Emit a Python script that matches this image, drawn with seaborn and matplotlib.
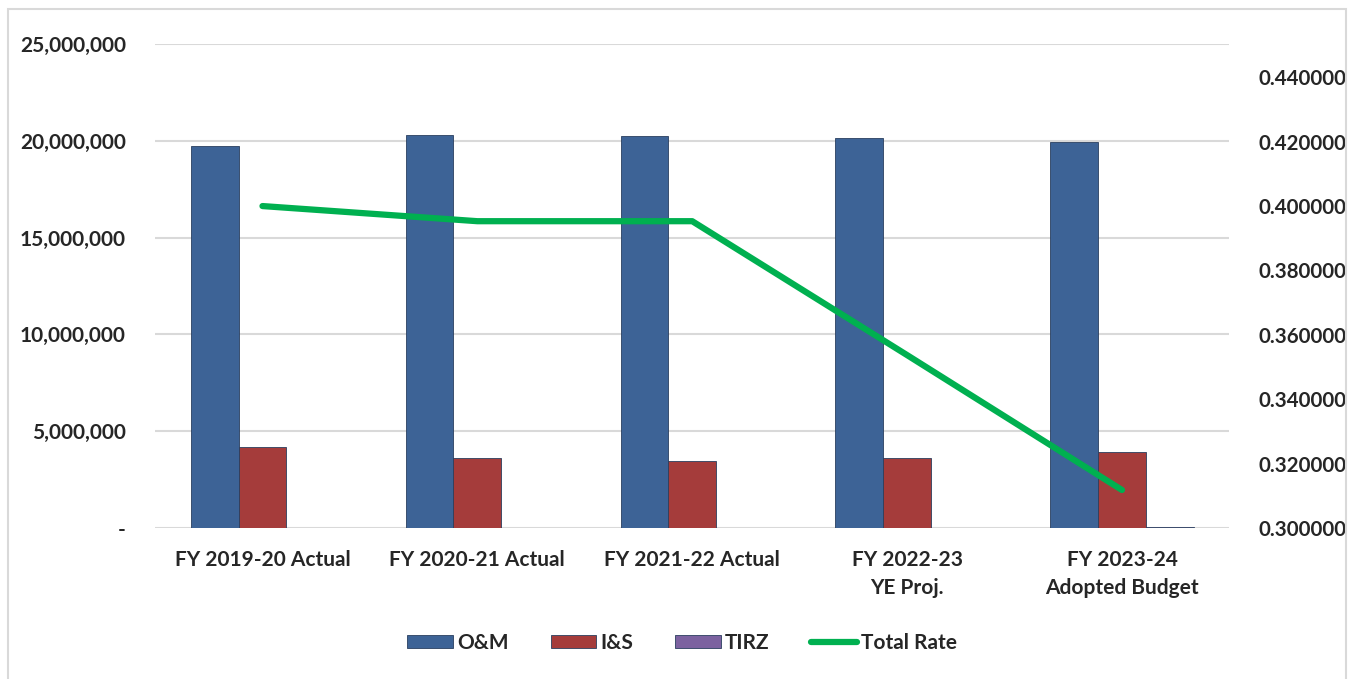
import numpy as np
import pandas as pd
import matplotlib.pyplot as plt
import matplotlib.patches as mpatches
from matplotlib.lines import Line2D
from matplotlib.ticker import FuncFormatter, MultipleLocator
import seaborn as sns

# values
years = ['FY 2019-20 Actual', 'FY 2020-21 Actual', 'FY 2021-22 Actual',
         'FY 2022-23\nYE Proj.', 'FY 2023-24\nAdopted Budget']
om = [19730000, 20300000, 20250000, 20150000, 19940000]
i_s = [4180000, 3620000, 3460000, 3620000, 3930000]
tirz = [0, 0, 0, 0, 50000]
total_rate = [0.4000, 0.3953, 0.3953, 0.3537, 0.3118]

series = ['O&M', 'I&S', 'TIRZ']
colors = ['#3D6396', '#A53C3B', '#7C62A0']
green = '#00B050'

df = pd.DataFrame({'Year': years * 3,
                   'Fund': [s for s in series for _ in years],
                   'Amount': om + i_s + tirz})

sns.set_style('white')
plt.rcParams['font.family'] = ['Lato', 'DejaVu Sans']
plt.rcParams['font.weight'] = 'bold'
fs = 15

fig = plt.figure(figsize=(13.54, 6.79), dpi=100)
ax = fig.add_axes([0.1145, 0.2224, 0.7935, 0.7126])

sns.barplot(data=df, x='Year', y='Amount', hue='Fund', palette=colors,
            saturation=1, width=0.667, gap=0, ax=ax, legend=False,
            edgecolor='#2a3f5f', linewidth=0.6)
for bar in ax.patches:
    bar.set_zorder(2)

ax.set_ylim(0, 25000000)
ax.yaxis.set_major_locator(MultipleLocator(5000000))
ax.yaxis.set_major_formatter(FuncFormatter(lambda v, p: '-' if v == 0 else f'{v:,.0f}'))
ax.grid(axis='y', color='#D9D9D9', linewidth=1.5, zorder=0)
ax.set_axisbelow(True)
ax.set_xlabel('')
ax.set_ylabel('')
for s in ax.spines.values():
    s.set_visible(False)
ax.tick_params(axis='y', length=0, labelsize=fs, pad=21)
ax.tick_params(axis='x', length=0, labelsize=fs, pad=16)
for lbl in ax.get_xticklabels():
    lbl.set_linespacing(1.5)

ax2 = ax.twinx()
sns.lineplot(x=np.arange(len(years)), y=total_rate, color=green, linewidth=4.5,
             solid_capstyle='round', ax=ax2)
ax2.set_ylim(0.30, 0.4503)
ax2.yaxis.set_major_locator(MultipleLocator(0.02))
ax2.yaxis.set_major_formatter(FuncFormatter(lambda v, p: '' if v > 0.445 else f'{v:.6f}'))
for s in ax2.spines.values():
    s.set_visible(False)
ax2.tick_params(axis='y', length=0, labelsize=14.8, pad=21)
ax.set_xlim(-0.5, len(years) - 0.5)

handles = [mpatches.Patch(facecolor=c, edgecolor='#2a3f5f', linewidth=0.6) for c in colors]
handles.append(Line2D([0], [0], color=green, linewidth=4.5, solid_capstyle='round'))
fig.legend(handles, series + ['Total Rate'], loc='center', bbox_to_anchor=(0.504, 0.053),
           ncol=4, frameon=False, fontsize=fs, handlelength=2.2, handleheight=0.6,
           handletextpad=0.2, columnspacing=2.0)

# light frame around the chart
fig.patches.append(mpatches.Rectangle((0.006, -0.01), 0.988, 0.997, transform=fig.transFigure,
                                      fill=False, edgecolor='#D9D9D9', linewidth=1.5))

fig.savefig('out.png', dpi=100)
